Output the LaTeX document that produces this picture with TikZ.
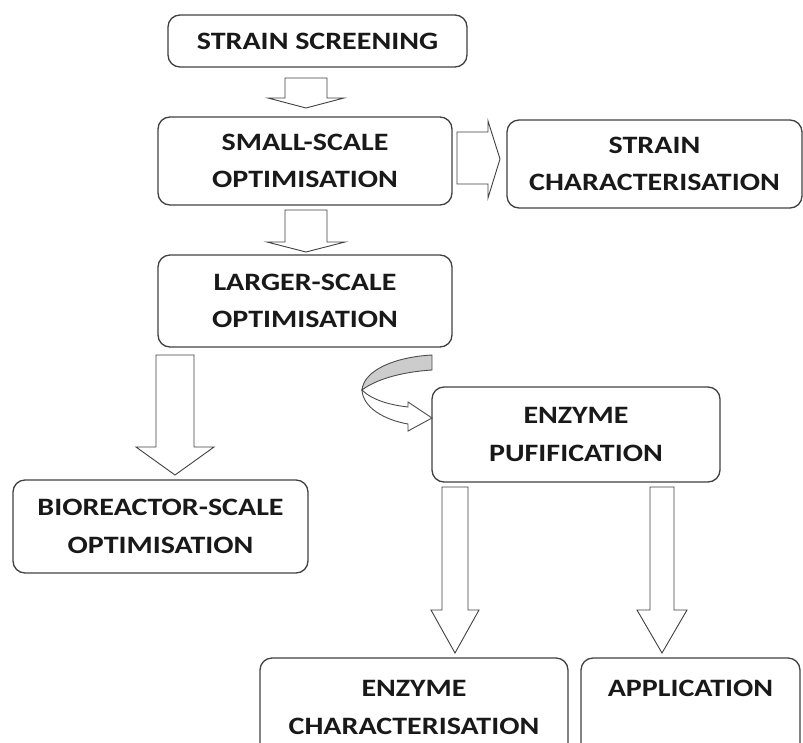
\documentclass[tikz,border=0pt]{standalone}
\usepackage{fontspec}
\setmainfont{Carlito}
\newfontfamily\boxfont[FakeStretch=1.2]{Carlito}
\begin{document}
\begin{tikzpicture}[x=1pt,y=-1pt,
  boxnode/.style={draw=black!75, line width=1.3pt, rounded corners=12pt, inner sep=0pt, align=center,
     font=\boxfont\bfseries\fontsize{25}{37.5}\selectfont, text=black!90},
  labelnode/.style={inner sep=0pt, align=center, font=\boxfont\bfseries\fontsize{25}{37.5}\selectfont, text=black!90},
  blk/.style={draw=black!75, line width=0.9pt, fill=white, line join=miter},
  curvy/.style={draw=black!70, line width=0.9pt}]
\useasboundingbox (0,0) rectangle (803,742);
\clip (0,0) rectangle (803,742);
\newcommand\blkdown[6]{% x, top, base, tip, shaft half, head half
  \draw[blk] (#1-#5,#2) -- (#1+#5,#2) -- (#1+#5,#3) -- (#1+#6,#3) -- (#1,#4) -- (#1-#6,#3) -- (#1-#5,#3) -- cycle;}
% boxes
\node[boxnode, minimum width=299pt, minimum height=52pt] (ss) at (317.5,41) {STRAIN SCREENING};
\node[boxnode, minimum width=294pt, minimum height=88pt] (small) at (305,161) {SMALL-SCALE\\OPTIMISATION};
\node[boxnode, minimum width=295pt, minimum height=88pt] (sc) at (654.5,164) {STRAIN\\CHARACTERISATION};
\node[boxnode, minimum width=294pt, minimum height=92pt] (large) at (305,301) {LARGER-SCALE\\OPTIMISATION};
\node[boxnode, minimum width=295pt, minimum height=93pt] (bio) at (160.5,526.5) {BIOREACTOR-SCALE\\OPTIMISATION};
\node[boxnode, minimum width=288pt, minimum height=95pt] (puf) at (576,434.5) {ENZYME\\PUFIFICATION};
\node[boxnode, minimum width=308pt, minimum height=110pt] (ec) at (414,713) {};
\node[labelnode] (ect) at (414,707.5) {ENZYME\\CHARACTERISATION};
\node[boxnode, minimum width=219pt, minimum height=110pt] (app) at (690.5,713) {};
\node[labelnode] (appt) at (690.5,688) {APPLICATION};
% block arrows
\blkdown{306}{78}{98}{108}{21}{38}
\blkdown{306}{210}{242}{252}{21}{39}
\blkdown{175}{355}{447}{475}{19}{39}
\blkdown{455}{487}{610}{653}{13}{24}
\blkdown{662}{487}{610}{653}{12}{25}
\draw[blk] (457,132) -- (488,132) -- (488,121) -- (500,159) -- (488,198) -- (488,184) -- (457,184) -- cycle;
% curved arrow
\draw[curvy, fill=black!20] (432,355) .. controls (395,357) and (364,370) .. (362,390)
   .. controls (375,380) and (400,372) .. (432,370) -- cycle;
\draw[curvy, fill=white] (362,390) .. controls (372,400) and (390,405) .. (408,407)
   -- (408,402) -- (432,418) -- (408,431) -- (408,424)
   .. controls (385,420) and (363,408) .. (362,390) -- cycle;
\end{tikzpicture}
\end{document}
